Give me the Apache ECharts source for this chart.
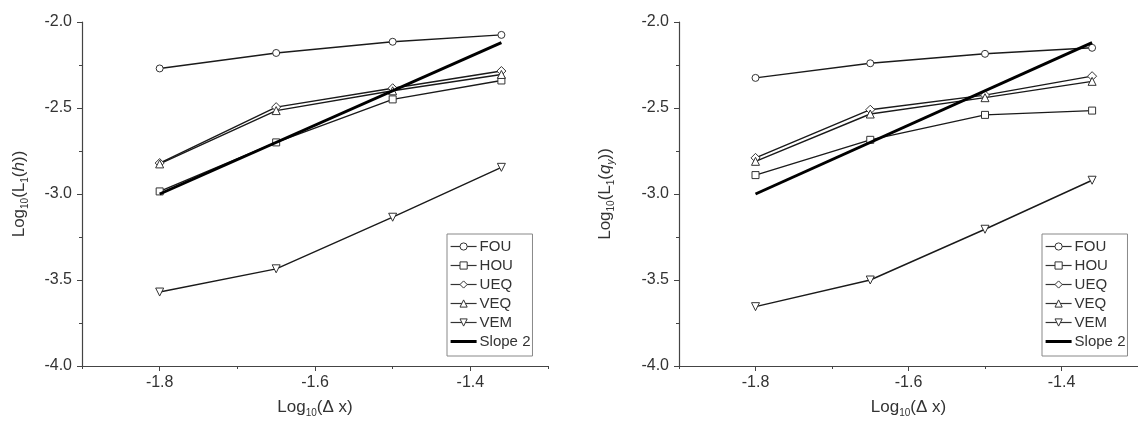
<!DOCTYPE html>
<html>
<head>
<meta charset="utf-8">
<script src="https://cdn.jsdelivr.net/npm/echarts@6/dist/echarts.min.js"></script>
<style>
html,body{margin:0;padding:0;background:#fff;}
#c{width:1138px;height:423px;}
</style>
</head>
<body>
<div id="c"></div>
<script>
// ---- data ----
const xVals = [-1.8, -1.65, -1.5, -1.36];
const seriesNames = ['FOU', 'HOU', 'UEQ', 'VEQ', 'VEM', 'Slope 2'];
// left panel: Log10(L1(h))
const FOU_h = [-2.27, -2.18, -2.115, -2.075];
const HOU_h = [-2.985, -2.70, -2.45, -2.34];
const UEQ_h = [-2.82, -2.495, -2.385, -2.285];
const VEQ_h = [-2.825, -2.515, -2.40, -2.305];
const VEM_h = [-3.57, -3.435, -3.135, -2.845];
// right panel: Log10(L1(qy))
const FOU_q = [-2.325, -2.24, -2.185, -2.15];
const HOU_q = [-2.89, -2.685, -2.54, -2.515];
const UEQ_q = [-2.79, -2.51, -2.425, -2.315];
const VEQ_q = [-2.81, -2.535, -2.44, -2.345];
const VEM_q = [-3.655, -3.50, -3.205, -2.92];
// slope-2 reference line
const slopeX = [-1.8, -1.36];
const slopeY = [-3.0, -2.12];
// axis ticks
const xTickLabels = [-1.8, -1.6, -1.4];

const FONT = 'Liberation Sans, Arial, sans-serif';
const TXT = '#333';
const AX = '#444';
const LINE = '#1a1a1a';

const chart = echarts.init(document.getElementById('c'), null, {renderer: 'canvas'});

function pairs(xs, ys) { return xs.map((x, i) => [x, ys[i]]); }

const symbols = {
  FOU: ['circle', 0, 7],
  HOU: ['rect', 0, 7],
  UEQ: ['diamond', 0, 9],
  VEQ: ['triangle', 0, 8],
  VEM: ['triangle', 180, 8]
};

function makeSeries(gridIdx, dataMap) {
  const out = [];
  ['FOU', 'HOU', 'UEQ', 'VEQ', 'VEM'].forEach(n => {
    const s = symbols[n];
    out.push({
      name: n, type: 'line', xAxisIndex: gridIdx, yAxisIndex: gridIdx,
      data: pairs(xVals, dataMap[n]),
      symbol: s[0], symbolRotate: s[1], symbolSize: s[2], showAllSymbol: true,
      lineStyle: {color: LINE, width: 1.4},
      itemStyle: {color: '#fff', borderColor: '#333', borderWidth: 1},
      emphasis: {disabled: true}, animation: false, z: 3
    });
  });
  out.push({
    name: 'Slope 2', type: 'line', xAxisIndex: gridIdx, yAxisIndex: gridIdx,
    data: pairs(slopeX, slopeY), symbol: 'none',
    lineStyle: {color: '#000', width: 3},
    itemStyle: {color: '#000'},
    emphasis: {disabled: true}, animation: false, z: 4
  });
  return out;
}

const nameRich = {
  n: {fontSize: 17, fontFamily: FONT, color: TXT, lineHeight: 22},
  s: {fontSize: 10, fontFamily: FONT, color: TXT, lineHeight: 12, verticalAlign: 'bottom'},
  i: {fontSize: 17, fontFamily: FONT, color: TXT, fontStyle: 'italic', lineHeight: 22},
  si: {fontSize: 10, fontFamily: FONT, color: TXT, fontStyle: 'italic', lineHeight: 12, verticalAlign: 'bottom'}
};

function mainX(gridIdx) {
  return {
    type: 'value', gridIndex: gridIdx, min: -1.9, max: -1.3, interval: 0.1, position: 'bottom',
    name: '{n|Log}{s|10}{n|(Δ x)}', nameLocation: 'middle', nameGap: 30,
    nameTextStyle: {rich: nameRich},
    axisLine: {show: true, onZero: false, lineStyle: {color: AX, width: 1.2}},
    axisTick: {show: true, length: 5, customValues: xTickLabels, lineStyle: {color: AX}},
    axisLabel: {show: true, customValues: xTickLabels, margin: 9, fontSize: 16, fontFamily: FONT, color: TXT,
      formatter: v => (Math.round(v * 10) / 10).toFixed(1)},
    splitLine: {show: false}
  };
}
function minorX(gridIdx) {
  return {
    type: 'value', gridIndex: gridIdx, min: -1.9, max: -1.3, interval: 0.1,
    position: 'bottom', offset: 0,
    axisLine: {show: false, onZero: false}, axisLabel: {show: false}, splitLine: {show: false},
    axisTick: {show: true, length: 3, lineStyle: {color: AX}}
  };
}
function mainY(gridIdx, nameStr, gap) {
  return {
    type: 'value', gridIndex: gridIdx, min: -4.0, max: -2.0, interval: 0.5,
    name: nameStr, nameLocation: 'middle', nameGap: gap,
    nameTextStyle: {rich: nameRich},
    axisLine: {show: true, onZero: false, lineStyle: {color: AX, width: 1.2}},
    axisTick: {show: true, length: 5, lineStyle: {color: AX}},
    minorTick: {show: true, splitNumber: 2, length: 3, lineStyle: {color: AX}},
    axisLabel: {margin: 10, fontSize: 16, fontFamily: FONT, color: TXT, formatter: v => v.toFixed(1)},
    splitLine: {show: false}, minorSplitLine: {show: false}
  };
}

const slopeIcon = 'path://M0,0 L0.01,0 M0,3 L26,3 L26,6 L0,6 Z M0,9 L0.01,9';

function legend(leftPx) {
  return {
    data: seriesNames.map(n => n === 'Slope 2' ? {name: n, icon: slopeIcon} : {name: n}),
    orient: 'vertical', left: leftPx, top: 234,
    itemWidth: 26, itemHeight: 9, itemGap: 4,
    padding: [5, 2, 7, 3],
    borderColor: '#888', borderWidth: 1, backgroundColor: '#fff',
    lineStyle: {width: 1.2, color: '#333'},
    itemStyle: {borderWidth: 1},
    textStyle: {fontSize: 15, fontFamily: FONT, color: TXT, padding: [0, 0, 0, -2]},
    selectedMode: false, z: 10
  };
}

const option = {
  backgroundColor: '#fff',
  animation: false,
  grid: [
    {left: 82, right: 590, top: 22, bottom: 56, containLabel: false},
    {left: 679, right: -6, top: 22, bottom: 56, containLabel: false}
  ],
  xAxis: [mainX(0), mainX(1), minorX(0), minorX(1)],
  yAxis: [
    mainY(0, '{n|Log}{s|10}{n|(L}{s|1}{n|(}{i|h}{n|))}', 52),
    mainY(1, '{n|Log}{s|10}{n|(L}{s|1}{n|(}{i|q}{si|y}{n|))}', 63)
  ],
  legend: [legend(447), legend(1042)],
  series: [
    ...makeSeries(0, {FOU: FOU_h, HOU: HOU_h, UEQ: UEQ_h, VEQ: VEQ_h, VEM: VEM_h}),
    ...makeSeries(1, {FOU: FOU_q, HOU: HOU_q, UEQ: UEQ_q, VEQ: VEQ_q, VEM: VEM_q})
  ]
};
chart.setOption(option);
</script>
</body>
</html>
